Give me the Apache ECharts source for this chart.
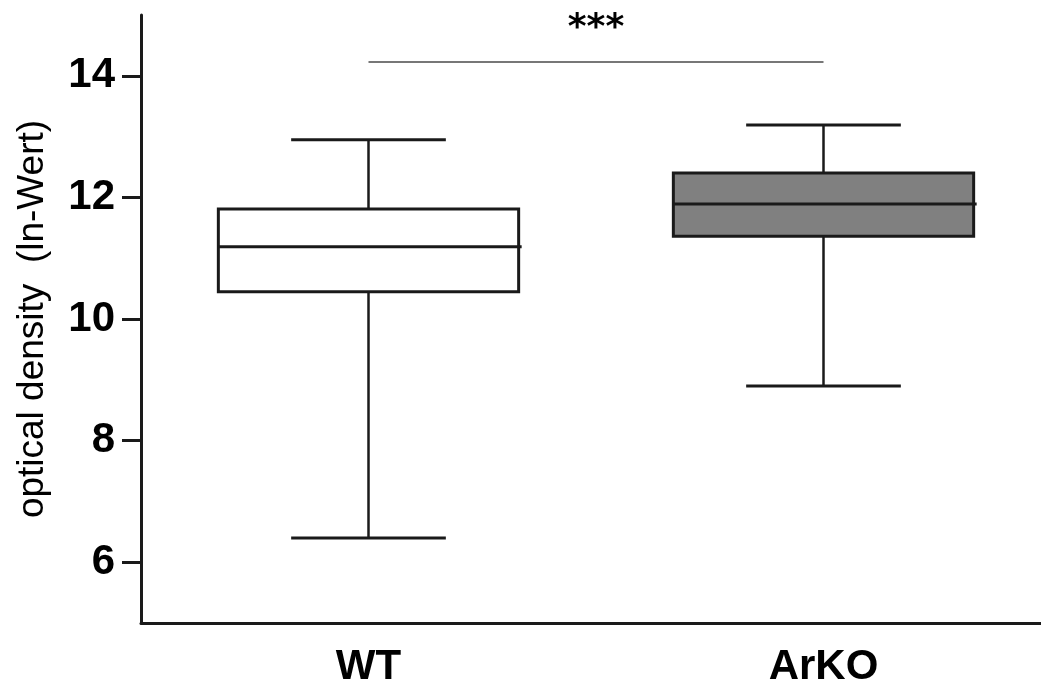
<!DOCTYPE html>
<html>
<head>
<meta charset="utf-8">
<script src="https://cdn.jsdelivr.net/npm/echarts@6/dist/echarts.min.js"></script>
<style>
  html, body { margin: 0; padding: 0; background: #fff; }
  #chart { width: 1041px; height: 686px; }
</style>
</head>
<body>
<div id="chart"></div>
<script>
/*##########  optical density WT vs ArKO  ##########*/
var categories = ['WT', 'ArKO'];
var whiskerLow = [6.4, 8.9];
var q1 = [10.45, 11.36];
var median = [11.19, 11.89];
var q3 = [11.81, 12.4];
var whiskerHigh = [12.95, 13.19];
var boxFill = ['#ffffff', '#808080'];
var yTicks = [6, 8, 10, 12, 14];
var sigLevel = 14.235;
var sigText = '***';

var boxData = categories.map(function (c, i) {
    return [i, whiskerLow[i], q1[i], median[i], q3[i], whiskerHigh[i]];
});

var ink = '#1a1a1a';

function renderBox(params, api) {
    var i = api.value(0);
    var band = api.size([1, 0])[0];
    var half = band * 0.33;   // box half width
    var cap = band * 0.17;    // whisker cap half width
    var pLow = api.coord([i, api.value(1)]);
    var pQ1 = api.coord([i, api.value(2)]);
    var pMed = api.coord([i, api.value(3)]);
    var pQ3 = api.coord([i, api.value(4)]);
    var pHigh = api.coord([i, api.value(5)]);
    var cx = pMed[0];
    var wStyle = { stroke: ink, lineWidth: 2.5 };
    return {
        type: 'group',
        children: [
            { type: 'line', shape: { x1: cx, y1: pQ1[1], x2: cx, y2: pLow[1] }, style: wStyle },
            { type: 'line', shape: { x1: cx, y1: pQ3[1], x2: cx, y2: pHigh[1] }, style: wStyle },
            { type: 'line', shape: { x1: cx - cap, y1: pLow[1], x2: cx + cap, y2: pLow[1] }, style: { stroke: ink, lineWidth: 3 } },
            { type: 'line', shape: { x1: cx - cap, y1: pHigh[1], x2: cx + cap, y2: pHigh[1] }, style: { stroke: ink, lineWidth: 3 } },
            {
                type: 'rect',
                shape: { x: cx - half, y: pQ3[1], width: half * 2, height: pQ1[1] - pQ3[1] },
                style: { fill: boxFill[i], stroke: ink, lineWidth: 3 }
            },
            { type: 'line', shape: { x1: cx - half, y1: pMed[1], x2: cx + half + 3, y2: pMed[1] }, style: { stroke: ink, lineWidth: 3 } }
        ]
    };
}

var option = {
    backgroundColor: '#ffffff',
    animation: false,
    grid: {
        left: 141,
        width: 910,   // runs a little past the right edge, like the original
        top: 15,
        bottom: 63,
        outerBoundsMode: 'none'
    },
    xAxis: {
        type: 'category',
        data: categories,
        axisLine: { lineStyle: { color: ink, width: 3 } },
        axisTick: { alignWithLabel: true, length: 16, lineStyle: { color: ink, width: 3 } },
        axisLabel: {
            margin: 23,
            color: '#000',
            fontFamily: 'Liberation Sans, Arial, sans-serif',
            fontWeight: 'bold',
            fontSize: 42
        },
        splitLine: { show: false }
    },
    yAxis: {
        type: 'value',
        min: 5,
        max: 15,
        name: 'optical density  (ln-Wert)',
        nameLocation: 'middle',
        nameGap: 90,
        nameTextStyle: {
            color: '#000',
            fontFamily: 'Liberation Sans, Arial, sans-serif',
            fontSize: 37
        },
        axisLine: { show: true, lineStyle: { color: ink, width: 3 } },
        axisTick: { show: true, length: 19, customValues: yTicks, lineStyle: { color: ink, width: 3 } },
        axisLabel: {
            customValues: yTicks,
            margin: 26,
            color: '#000',
            fontFamily: 'Liberation Sans, Arial, sans-serif',
            fontWeight: 'bold',
            fontSize: 42
        },
        splitLine: { show: false }
    },
    series: [
        {
            name: 'optical density',
            type: 'custom',
            renderItem: renderBox,
            encode: { x: 0, y: [1, 2, 3, 4, 5] },
            data: boxData,
            markLine: {
                silent: true,
                symbol: ['none', 'none'],
                lineStyle: { color: '#777', width: 2, type: 'solid' },
                label: {
                    show: true,
                    position: 'middle',
                    distance: 15,
                    formatter: sigText,
                    color: '#000',
                    fontFamily: 'DejaVu Sans, sans-serif',
                    fontWeight: 'bold',
                    fontSize: 36
                },
                data: [
                    [{ coord: [categories[0], sigLevel] }, { coord: [categories[1], sigLevel] }]
                ]
            }
        }
    ]
};

var dom = document.getElementById('chart');
var myChart = echarts.init(dom);
myChart.setOption(option);
</script>
</body>
</html>
